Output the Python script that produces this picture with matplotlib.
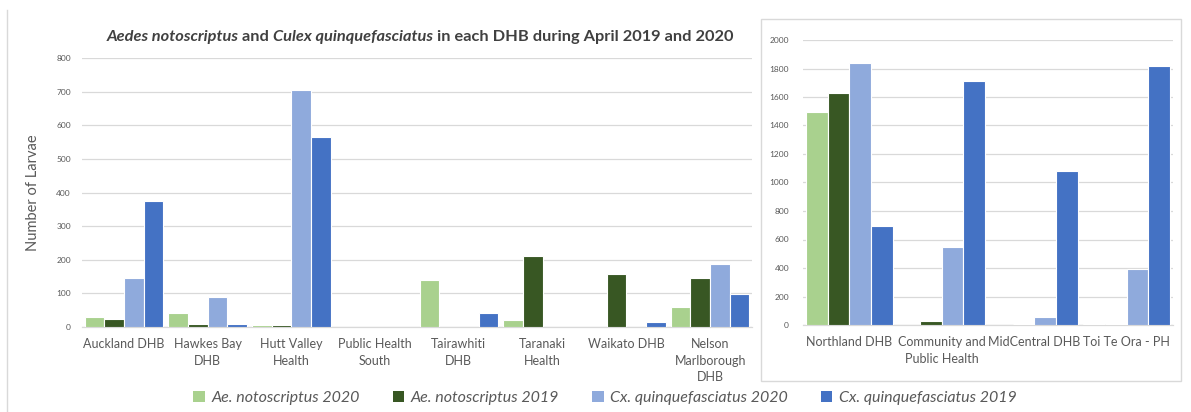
import matplotlib
matplotlib.use("Agg")
import matplotlib.pyplot as plt
from matplotlib.patches import Patch, Rectangle
from matplotlib.lines import Line2D
import numpy as np

plt.rcParams['font.family'] = ['Lato', 'DejaVu Sans']

left_cats = ["Auckland DHB", "Hawkes Bay\nDHB", "Hutt Valley\nHealth", "Public Health\nSouth",
             "Tairawhiti\nDHB", "Taranaki\nHealth", "Waikato DHB", "Nelson\nMarlborough\nDHB"]
left_ae2020 = [30, 43, 7, 0, 140, 20, 0, 58]
left_ae2019 = [25, 10, 5, 0, 0, 210, 158, 145]
left_cx2020 = [145, 88, 705, 0, 0, 0, 0, 188]
left_cx2019 = [375, 10, 565, 0, 42, 0, 15, 98]

right_cats = ["Northland DHB", "Community and\nPublic Health", "MidCentral DHB", "Toi Te Ora - PH"]
right_ae2020 = [1495, 0, 0, 8]
right_ae2019 = [1630, 30, 10, 8]
right_cx2020 = [1840, 545, 55, 395]
right_cx2019 = [695, 1715, 1080, 1815]

series_names = ["Ae. notoscriptus 2020", "Ae. notoscriptus 2019",
                "Cx. quinquefasciatus 2020", "Cx. quinquefasciatus 2019"]
colors = ["#A9D18E", "#385723", "#8FAADC", "#4472C4"]

W, H = 1191, 412
fig = plt.figure(figsize=(W/100, H/100), dpi=100)

def ax_rect(x0, y0, x1, y1):
    return [x0/W, 1 - y1/H, (x1-x0)/W, (y1-y0)/H]

grid_c = "#D9D9D9"
txt_c = "#595959"

def draw(ax, cats, series, ymax, step):
    n = len(cats)
    x = np.arange(n)
    bw = 0.235
    offs = (np.arange(4) - 1.5) * bw
    for i, vals in enumerate(series):
        ax.bar(x + offs[i], vals, width=bw, color=colors[i], edgecolor="white",
               linewidth=0.8, zorder=3)
    ax.set_xlim(-0.5, n - 0.5)
    ax.set_ylim(0, ymax)
    ax.set_yticks(np.arange(0, ymax + 1, step))
    ax.yaxis.grid(True, color=grid_c, linewidth=0.9, zorder=0)
    ax.set_axisbelow(True)
    for s in ["top", "right", "left"]:
        ax.spines[s].set_visible(False)
    ax.spines["bottom"].set_color(grid_c)
    ax.spines["bottom"].set_linewidth(0.9)
    ax.set_xticks(x)
    ax.set_xticklabels(cats, fontsize=9, color=txt_c, linespacing=1.45)
    ax.tick_params(axis="x", length=0, pad=8)
    ax.tick_params(axis="y", length=0, labelsize=6, labelcolor=txt_c, pad=8)

axL = fig.add_axes(ax_rect(82, 58, 752, 327))
draw(axL, left_cats, [left_ae2020, left_ae2019, left_cx2020, left_cx2019], 800, 100)
axL.set_ylabel("Number of Larvae", fontsize=10.5, color=txt_c, labelpad=12)

axR = fig.add_axes(ax_rect(803, 40, 1173, 325))
draw(axR, right_cats, [right_ae2020, right_ae2019, right_cx2020, right_cx2019], 2000, 200)
axR.tick_params(axis="y", pad=10)

# frame around right chart
fig.patches.append(Rectangle((761/W, 1 - 381/H), (1181-761)/W, (381-19)/H,
                             transform=fig.transFigure, fill=False,
                             edgecolor="#D9D9D9", linewidth=1.0))
# left chart border line
fig.add_artist(Line2D([7/W, 7/W], [0, 1 - 10/H], transform=fig.transFigure,
                      color="#D9D9D9", linewidth=1.0))

# title with mixed italic
fig.canvas.draw()
renderer = fig.canvas.get_renderer()
parts = [("Aedes notoscriptus", "italic"), (" and ", "normal"),
         ("Culex quinquefasciatus", "italic"),
         (" in each DHB during April 2019 and 2020", "normal")]
tsize = 11.8
tcol = "#404040"
texts = []
widths = []
for s, st in parts:
    t = fig.text(0, 0, s, fontsize=tsize, fontweight="bold", style=st, color=tcol)
    bb = t.get_window_extent(renderer=renderer)
    texts.append(t)
    widths.append(bb.width)
total = sum(widths)
xc = 420
x0 = xc - total/2
ytitle = 1 - 37/H
for t, w in zip(texts, widths):
    t.set_position((x0/W, ytitle))
    t.set_va("center")
    x0 += w

handles = [Patch(facecolor=c, edgecolor="none") for c in colors]
leg = fig.legend(handles, series_names, loc="center", bbox_to_anchor=(0.508, 1 - 398/H),
                 ncol=4, frameon=False, prop={"style": "italic", "size": 11.5},
                 handlelength=0.7, handleheight=0.7, handletextpad=0.4,
                 columnspacing=2.1, labelcolor=txt_c)

fig.savefig("out.png", dpi=100, facecolor="white")
